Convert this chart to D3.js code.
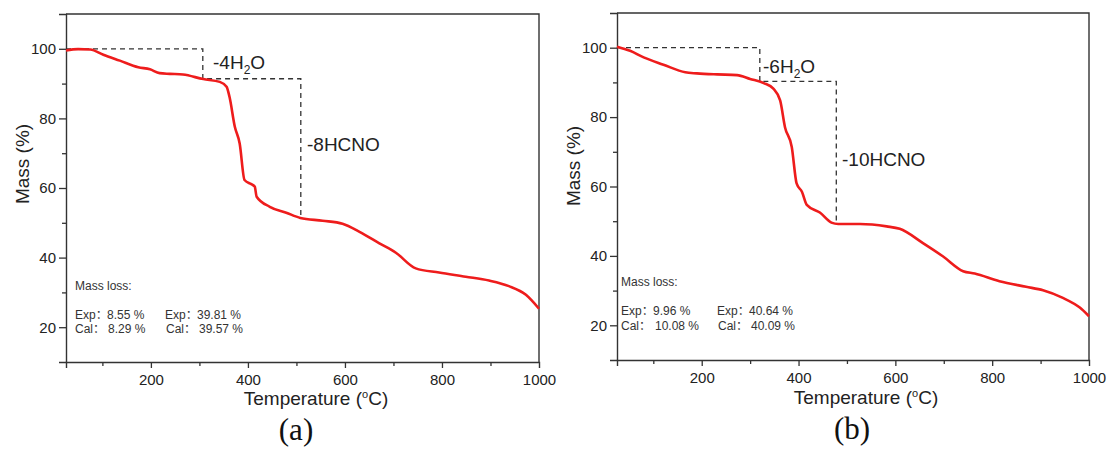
<!DOCTYPE html>
<html>
<head>
<meta charset="utf-8">
<script src="https://cdn.jsdelivr.net/npm/d3@7/dist/d3.min.js"></script>
<style>
  html, body { margin: 0; padding: 0; background: #fff; }
  svg { display: block; font-family: "Liberation Sans", Arial, "Noto Sans CJK SC", sans-serif; }
</style>
</head>
<body>
<svg id="chart" width="1107" height="451"></svg>
<script>
// ---- Data ----
const tempA = [25, 50, 75, 102, 136, 174, 198, 218, 239, 266, 308, 342, 356, 362, 373, 383, 393, 407, 414, 418, 445, 479, 508, 554, 595, 630, 671, 705, 746, 794, 849, 897, 938, 973, 1000];
const massA = [99.5, 99.9, 99.8, 98.3, 96.6, 94.7, 94.1, 93.0, 92.8, 92.6, 91.3, 90.5, 89.1, 86.2, 77.6, 72.8, 62.3, 61.1, 60.4, 57.5, 54.6, 52.9, 51.4, 50.6, 49.7, 47.4, 44.1, 41.4, 36.9, 35.7, 34.5, 33.4, 31.8, 29.3, 25.3];

const tempB = [25, 52, 80, 121, 166, 190, 232, 273, 300, 328, 348, 362, 372, 386, 396, 407, 417, 444, 468, 482, 527, 582, 609, 657, 698, 740, 764, 815, 870, 905, 946, 981, 1000];
const massB = [100.3, 99.1, 97.2, 95.1, 92.9, 92.6, 92.3, 92.1, 91.0, 89.8, 88.2, 84.8, 77.1, 71.4, 60.9, 58.5, 54.7, 52.5, 49.6, 49.2, 49.2, 48.5, 47.8, 43.7, 39.9, 35.6, 34.9, 32.7, 31.1, 30.1, 27.9, 25.1, 22.6];

// dashed step guides
const stepTA = [25, 307, 307, 509, 509];
const stepMA = [100, 100, 91.4, 91.4, 51.4];
const stepTB = [25, 320, 320, 478, 478];
const stepMB = [100, 100, 90.3, 90.3, 49.4];

// axis ticks
const xMajor = [200, 400, 600, 800, 1000];
const xMinor = [100, 300, 500, 700, 900];
const yMajor = [20, 40, 60, 80, 100];
const yMinor = [30, 50, 70, 90];
const xDomain = [25, 1000];
const yDomain = [10, 110];

// texts
const lossA = { exp1: "8.55 %", cal1: "8.29 %", exp2: "39.81 %", cal2: "39.57 %" };
const lossB = { exp1: "9.96 %", cal1: "10.08 %", exp2: "40.64 %", cal2: "40.09 %" };
const stepLabelsA = ["-4H", "2", "O", "-8HCNO"];
const stepLabelsB = ["-6H", "2", "O", "-10HCNO"];

const svg = d3.select("#chart");
const AX = "#333";

function drawPanel(cfg) {
  const g = svg.append("g").attr("transform", `translate(${cfg.left},${cfg.top})`);
  const W = cfg.width, H = cfg.height;
  const x = d3.scaleLinear().domain(xDomain).range([0, W]);
  const y = d3.scaleLinear().domain(yDomain).range([H, 0]);

  // frame (top & right)
  g.append("path").attr("d", `M0,0H${W}V${H}`).attr("fill", "none").attr("stroke", AX).attr("stroke-width", 1.4);

  // x axis
  const xa = g.append("g").attr("transform", `translate(0,${H})`)
    .call(d3.axisBottom(x).tickValues(xMajor).tickSize(6).tickPadding(6).tickFormat(d3.format("d")));
  xa.selectAll(".tick").filter(d => d === 1000).select("line").remove();
  g.append("g").attr("transform", `translate(0,${H})`)
    .call(d3.axisBottom(x).tickValues(xMinor).tickSize(4).tickFormat(""))
    .call(s => s.select(".domain").remove());

  // y axis
  g.append("g")
    .call(d3.axisLeft(y).tickValues(yMajor).tickSize(7).tickPadding(3).tickFormat(d3.format("d")));
  g.append("g")
    .call(d3.axisLeft(y).tickValues(yMinor).tickSize(4).tickFormat(""))
    .call(s => s.select(".domain").remove());

  g.selectAll(".domain").attr("stroke", AX).attr("stroke-width", 1.4);
  g.selectAll(".tick line").attr("stroke", AX).attr("stroke-width", 1.3);
  g.selectAll(".tick text").attr("fill", "#222").style("font-size", "15px")
    .style("font-family", "'Liberation Sans', Arial, sans-serif");

  // dashed steps
  const stepPts = cfg.stepT.map((t, i) => [t, cfg.stepM[i]]);
  g.append("path").datum(stepPts)
    .attr("d", d3.line().x(d => x(d[0])).y(d => y(d[1])))
    .attr("fill", "none").attr("stroke", "#333").attr("stroke-width", 1.3)
    .attr("stroke-dasharray", "5,4");

  // curve
  const pts = cfg.temp.map((t, i) => [t, cfg.mass[i]]);
  g.append("path").datum(pts)
    .attr("d", d3.line().x(d => x(d[0])).y(d => y(d[1])).curve(d3.curveMonotoneX))
    .attr("fill", "none").attr("stroke", "#ee1c1c").attr("stroke-width", 2.6)
    .attr("stroke-linejoin", "round");

  // step labels
  const l1 = g.append("text").attr("x", cfg.lab1[0]).attr("y", cfg.lab1[1])
    .attr("fill", "#222").style("font-size", "19px");
  l1.append("tspan").text(cfg.stepLabels[0]);
  l1.append("tspan").attr("dy", 5).style("font-size", "12px").text(cfg.stepLabels[1]);
  l1.append("tspan").attr("dy", -5).text(cfg.stepLabels[2]);
  g.append("text").attr("x", cfg.lab2[0]).attr("y", cfg.lab2[1])
    .attr("fill", "#222").style("font-size", "19px").text(cfg.stepLabels[3]);

  // mass loss box
  const t = cfg.ml;
  const ts = (xx, yy, s) => g.append("text").attr("x", xx).attr("y", yy)
    .attr("fill", "#333").style("font-size", "12px").text(s);
  ts(t.x0, t.y0, "Mass loss:");
  ts(t.x0, t.y1, "Exp：");
  ts(t.v1e, t.y1, cfg.loss.exp1);
  ts(t.x0, t.y2, "Cal：");
  ts(t.v1c, t.y2, cfg.loss.cal1);
  ts(t.x2e, t.y1, "Exp：");
  ts(t.v2e, t.y1, cfg.loss.exp2);
  ts(t.x2c, t.y2, "Cal：");
  ts(t.v2c, t.y2, cfg.loss.cal2);

  // axis titles
  const xt = g.append("text").attr("x", cfg.xTitle[0]).attr("y", cfg.xTitle[1])
    .attr("text-anchor", "middle").attr("fill", "#222").style("font-size", "19px");
  xt.append("tspan").text("Temperature (");
  xt.append("tspan").attr("dy", -7).style("font-size", "11px").text("o");
  xt.append("tspan").attr("dy", 7).text("C)");

  g.append("text").attr("transform", `translate(${cfg.yTitle[0]},${cfg.yTitle[1]}) rotate(-90)`)
    .attr("text-anchor", "middle").attr("fill", "#222").style("font-size", "19px").text("Mass (%)");

  // panel letter
  g.append("text").attr("x", cfg.letter[0]).attr("y", cfg.letter[1])
    .attr("text-anchor", "middle").attr("fill", "#111")
    .style("font-family", "'Liberation Serif', 'Times New Roman', serif").style("font-size", "31px")
    .text(cfg.letterText);
}

drawPanel({
  left: 66, top: 14, width: 473, height: 348,
  temp: tempA, mass: massA, stepT: stepTA, stepM: stepMA,
  stepLabels: stepLabelsA, lab1: [147, 55], lab2: [241, 137],
  loss: lossA,
  ml: { x0: 9, y0: 276, y1: 305, y2: 319, v1e: 41, v1c: 42, x2e: 99, v2e: 131, x2c: 100, v2c: 133 },
  xTitle: [250, 391], yTitle: [-37, 150], letter: [230, 426], letterText: "(a)"
});

drawPanel({
  left: 617, top: 13, width: 472, height: 347,
  temp: tempB, mass: massB, stepT: stepTB, stepM: stepMB,
  stepLabels: stepLabelsB, lab1: [146, 60], lab2: [225, 153],
  loss: lossB,
  ml: { x0: 4, y0: 273, y1: 302, y2: 317, v1e: 36, v1c: 38, x2e: 100, v2e: 132, x2c: 101, v2c: 134 },
  xTitle: [249, 391], yTitle: [-37, 153], letter: [235, 426], letterText: "(b)"
});
</script>
</body>
</html>
